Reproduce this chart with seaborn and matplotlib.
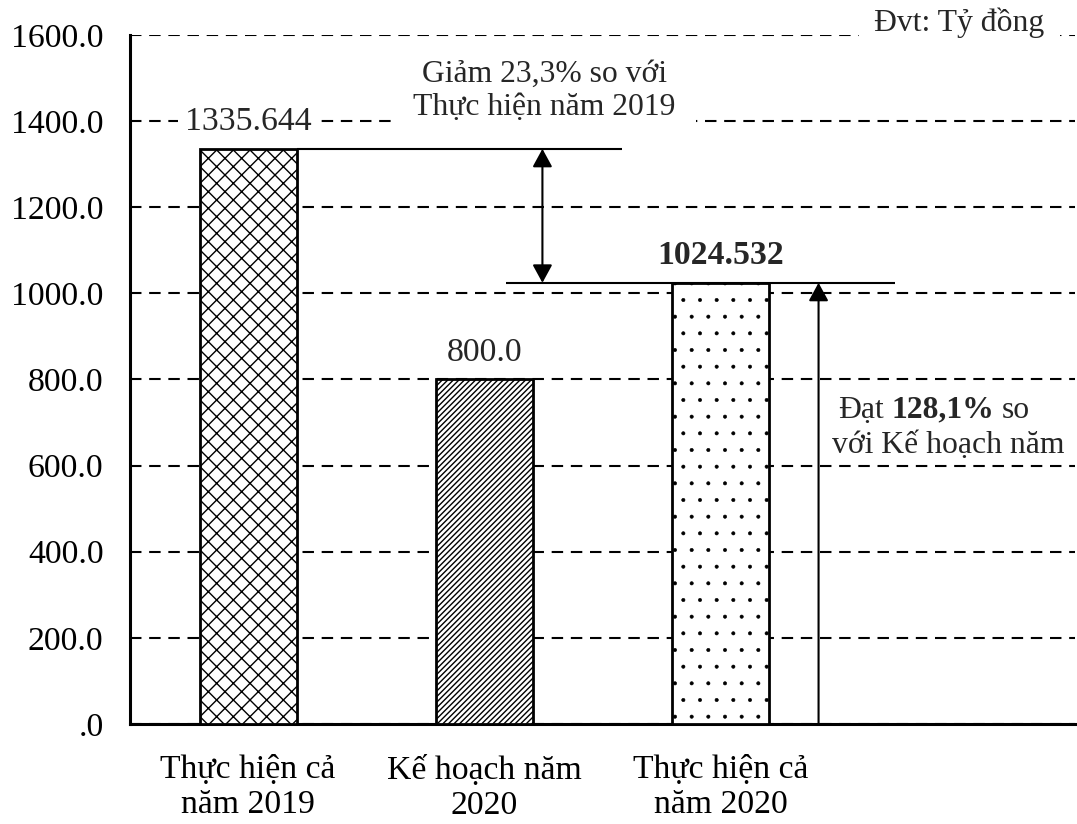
import numpy as np
import pandas as pd
import matplotlib.pyplot as plt
import seaborn as sns

# data
categories = ["Thực hiện cả\nnăm 2019", "Kế hoạch năm\n2020", "Thực hiện cả\nnăm 2020"]
values = [1335.644, 800.0, 1024.532]
value_labels = ["1335.644", "800.0", "1024.532"]
bold_labels = [False, False, True]
hatches = ["xx", "//////", "."]
y_ticks = [0, 200, 400, 600, 800, 1000, 1200, 1400, 1600]
y_tick_labels = [".0", "200.0", "400.0", "600.0", "800.0", "1000.0", "1200.0", "1400.0", "1600.0"]
unit_label = "Đvt: Tỷ đồng"
note_drop = "Giảm 23,3% so với\nThực hiện năm 2019"
note_plan = ["Đạt", "128,1%", "so", "với Kế hoạch năm"]

sns.set_theme(style="white")
plt.rcParams["font.family"] = ["Liberation Serif", "DejaVu Serif"]
plt.rcParams["hatch.linewidth"] = 1.0
plt.rcParams["hatch.color"] = "black"

FS = 24.3
FS_NOTE = 22.8
fig = plt.figure(figsize=(10.77, 8.24), dpi=100)
ax = fig.add_axes([0.1207, 0.1214, 0.8773, 0.8361])

df = pd.DataFrame({"cat": categories, "val": values})
bar_w = 0.41
sns.barplot(data=df, x="cat", y="val", order=categories, width=bar_w, color="white",
            saturation=1, edgecolor="black", linewidth=2, ax=ax)
for patch, h in zip(ax.patches, hatches):
    patch.set_hatch(h)
    patch.set_zorder(3)
try:
    ax.patches[2].set_hatch_linewidth(0.4)
except AttributeError:
    pass

ax.set_xlim(-0.5, 3.5)
ax.set_ylim(0, 1600)
ax.set_xlabel("")
ax.set_ylabel("")

# grid
ax.set_axisbelow(True)
ax.yaxis.grid(True, color="black", linestyle=(0, (5.5, 3.7)), linewidth=1.5)
ax.xaxis.grid(False)

# ticks
ax.set_yticks(y_ticks, labels=y_tick_labels)
ax.set_xticks(np.arange(-0.5, 4, 1))
ax.set_xticks(range(len(categories)), labels=categories, minor=True)
ax.tick_params(axis="x", which="major", labelbottom=False, length=10, width=2, direction="out", color="black")
ax.tick_params(axis="x", which="minor", length=0, pad=22, labelsize=FS, labelcolor="black")
ax.tick_params(axis="y", length=7, width=1.5, direction="out", color="black", pad=12, labelsize=FS, labelcolor="black")
for lab in ax.get_xticklabels(minor=True):
    lab.set_linespacing(1.2)
sns.despine(ax=ax)
for s in ["left", "bottom"]:
    ax.spines[s].set_linewidth(2.2)
    ax.spines[s].set_color("black")

# value labels
for i, (v, lab, b) in enumerate(zip(values, value_labels, bold_labels)):
    ax.text(i, v + 63, lab, ha="center", va="center", fontsize=FS,
            fontweight="bold" if b else "normal", zorder=5,
            bbox=dict(facecolor="white", edgecolor="none", boxstyle="square,pad=0.2"))

# comparison lines and arrows
top_a, top_b = values[0], values[2]
ax.hlines(top_a, bar_w / 2, 1.585, color="black", lw=1.5, zorder=4)
ax.hlines(top_b, 1.09, 2.74, color="black", lw=1.5, zorder=4)
ax.annotate("", xy=(1.246, top_b), xytext=(1.246, top_a),
            arrowprops=dict(arrowstyle="<|-|>,head_length=0.55,head_width=0.3", color="black",
                            lw=1.5, mutation_scale=20, shrinkA=0, shrinkB=0), zorder=4)
ax.annotate("", xy=(2.415, top_b), xytext=(2.415, 0),
            arrowprops=dict(arrowstyle="-|>,head_length=0.55,head_width=0.3", color="black",
                            lw=1.5, mutation_scale=20, shrinkA=0, shrinkB=0), zorder=4)

ax.text(1.255, 1470, note_drop, ha="center", va="center", fontsize=FS_NOTE, linespacing=1.2, zorder=5,
        bbox=dict(facecolor="white", edgecolor="none", boxstyle="square,pad=0.65"))

t1 = ax.text(2.497, 729, note_plan[0], ha="left", va="center", fontsize=FS_NOTE, zorder=5)
t2 = ax.annotate(note_plan[1], xy=(1, 0), xycoords=t1, xytext=(5.5, 0), textcoords="offset points",
                 ha="left", va="bottom", fontsize=FS_NOTE, fontweight="bold", zorder=5)
ax.annotate(note_plan[2], xy=(1, 0), xycoords=t2, xytext=(5.5, 0), textcoords="offset points",
            ha="left", va="bottom", fontsize=FS_NOTE, zorder=5)
ax.text(2.473, 646, note_plan[3], ha="left", va="center", fontsize=FS_NOTE, zorder=5)

ax.text(0.968, 1.018, unit_label, transform=ax.transAxes, ha="right", va="center", fontsize=FS_NOTE,
        clip_on=False, zorder=5,
        bbox=dict(facecolor="white", edgecolor="none", boxstyle="square,pad=0.5"))

fig.savefig("out.png", dpi=100)
